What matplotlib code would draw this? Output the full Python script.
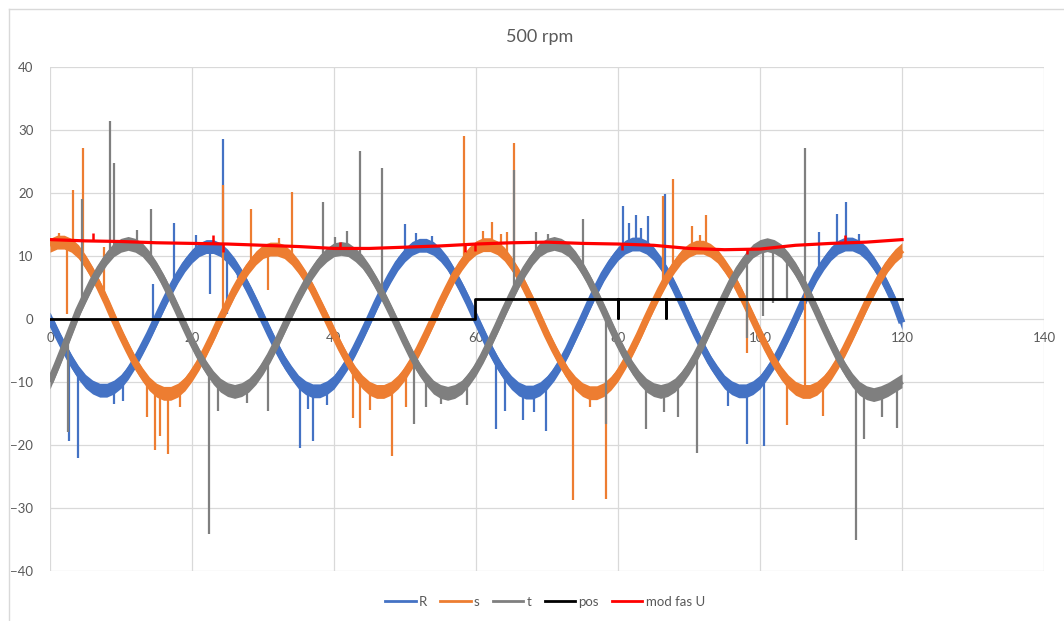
import numpy as np
import matplotlib
matplotlib.use("Agg")
import matplotlib.pyplot as plt
from matplotlib.lines import Line2D

plt.rcParams['font.family'] = ['Lato', 'DejaVu Sans']

# samples, one per x unit (0..120)
x = np.arange(0, 121)

R = [0, -2.4, -4.6, -6.7, -8.5, -9.9, -10.8, -11.3, -11.3, -10.8, -9.9, -8.5, -6.7, -4.6, -2.4,
     0, 2.4, 4.7, 6.8, 8.6, 10.0, 11.0, 11.5, 11.5, 11.0, 10.0, 8.6, 6.8, 4.7, 2.4,
     0, -2.4, -4.7, -6.8, -8.5, -10.0, -10.9, -11.4, -11.4, -10.9, -10.0, -8.5, -6.8, -4.7, -2.4,
     0, 2.5, 4.8, 6.9, 8.8, 10.2, 11.2, 11.7, 11.7, 11.2, 10.2, 8.8, 6.9, 4.8, 2.5,
     0, -2.4, -4.8, -6.9, -8.7, -10.1, -11.1, -11.6, -11.6, -11.1, -10.1, -8.7, -6.9, -4.8, -2.4,
     0, 2.5, 4.9, 7.1, 8.9, 10.4, 11.4, 11.9, 11.9, 11.4, 10.4, 8.9, 7.1, 4.9, 2.5,
     0, -2.4, -4.7, -6.8, -8.5, -10.0, -10.9, -11.4, -11.4, -10.9, -10.0, -8.5, -6.8, -4.7, -2.4,
     0, 2.5, 4.9, 7.1, 8.9, 10.4, 11.4, 11.9, 11.9, 11.4, 10.4, 8.9, 7.1, 4.9, 2.5,
     -0.6]

S = [11.7, 12.2, 12.2, 11.7, 10.7, 9.1, 7.2, 5.0, 2.6, 0,
     -2.5, -4.8, -7.0, -8.8, -10.3, -11.3, -11.8, -11.8, -11.3, -10.3, -8.8, -7.0, -4.8, -2.5, 0,
     2.3, 4.6, 6.6, 8.3, 9.7, 10.7, 11.1, 11.1, 10.7, 9.7, 8.3, 6.6, 4.6, 2.3, 0,
     -2.4, -4.7, -6.8, -8.6, -10.0, -11.0, -11.5, -11.5, -11.0, -10.0, -8.6, -6.8, -4.7, -2.4, 0,
     2.5, 4.8, 7.0, 8.8, 10.3, 11.3, 11.8, 11.8, 11.3, 10.3, 8.8, 7.0, 4.8, 2.5, 0,
     -2.5, -4.8, -6.9, -8.8, -10.2, -11.2, -11.7, -11.7, -11.2, -10.2, -8.8, -6.9, -4.8, -2.5, 0,
     2.4, 4.7, 6.8, 8.5, 10.0, 10.9, 11.4, 11.4, 10.9, 10.0, 8.5, 6.8, 4.7, 2.4, 0,
     -2.4, -4.7, -6.8, -8.6, -10.0, -11.0, -11.5, -11.5, -11.0, -10.0, -8.6, -6.8, -4.7, -2.4, 0,
     2.4, 4.7, 6.8, 8.6, 10.0, 11.0]

T = [-10.0, -7.3, -4.5, -1.6,
     1.3, 3.7, 6.0, 8.0, 9.7, 11.0, 11.7, 12.0, 11.7, 11.0, 9.7, 8.0, 6.0, 3.7, 1.3,
     -1.2, -3.6, -5.8, -7.7, -9.3, -10.5, -11.2, -11.5, -11.2, -10.5, -9.3, -7.7, -5.8, -3.6, -1.2,
     1.2, 3.5, 5.6, 7.5, 9.1, 10.2, 11.0, 11.2, 11.0, 10.2, 9.1, 7.5, 5.6, 3.5, 1.2,
     -1.2, -3.6, -5.9, -7.9, -9.5, -10.8, -11.5, -11.8, -11.5, -10.8, -9.5, -7.9, -5.9, -3.6, -1.2,
     1.3, 3.7, 6.0, 8.0, 9.7, 11.0, 11.7, 12.0, 11.7, 11.0, 9.7, 8.0, 6.0, 3.7, 1.3,
     -1.2, -3.6, -5.8, -7.7, -9.3, -10.5, -11.2, -11.5, -11.2, -10.5, -9.3, -7.7, -5.8, -3.6, -1.2,
     1.2, 3.6, 5.9, 7.9, 9.5, 10.8, 11.5, 11.8, 11.5, 10.8, 9.5, 7.9, 5.9, 3.6, 1.2,
     -1.3, -3.7, -6.0, -8.0, -9.7, -11.0, -11.7, -12.0, -11.7, -11.2, -10.5, -9.8]

mod_x = [0, 5, 10, 15, 20, 25, 30, 35, 40, 45, 50, 55, 60, 65, 70, 75, 80, 85, 90, 95, 100, 105, 110, 115, 120]
mod_u = [12.6, 12.4, 12.3, 12.1, 12.0, 11.9, 11.7, 11.5, 11.2, 11.2, 11.4, 11.6, 11.9, 12.1, 12.2,
         12.0, 11.9, 11.7, 11.2, 11.0, 11.1, 11.7, 12.0, 12.2, 12.6]

pos_x = [0, 59.9, 59.9, 80.0, 80.0, 80.0, 86.7, 86.7, 86.7, 120]
pos_y = [0, 0, 3.2, 3.2, 0.1, 3.2, 3.2, 0.1, 3.2, 3.2]

# spikes: position and tip value
R_spk_x = [2.7, 4.0, 9.0, 10.3, 14.5, 17.4, 20.5, 22.6, 24.4, 24.9, 26.5, 35.2, 36.3, 37.1, 39.0,
           50.0, 51.5, 53.8, 62.8, 64.1, 66.6, 68.2, 69.9, 80.7, 81.6, 82.5, 83.2, 84.2, 86.6,
           95.5, 98.2, 100.6, 108.3, 110.8, 112.1, 114.0]
R_spk_y = [-19.4, -22.1, -13.5, -13.0, 5.6, 15.3, 13.4, 4.0, 28.5, 0.8, 6.5, -20.4, -14.3, -19.4, -13.6,
           15.1, 13.6, 13.2, -17.4, -14.6, -16.0, -14.8, -17.7, 18.0, 15.2, 16.5, 14.5, 16.4, 19.8,
           -13.8, -19.8, -20.1, 13.8, 16.7, 18.6, 13.5]

S_spk_x = [1.2, 2.4, 3.3, 4.6, 7.6, 13.6, 14.8, 15.5, 16.6, 18.3, 24.4, 28.3, 30.7, 32.2, 34.1,
           42.7, 43.7, 45.0, 48.2, 50.2, 58.3, 61.0, 62.2, 63.5, 64.3, 65.4, 73.7, 76.0, 78.3,
           86.3, 87.7, 90.4, 91.5, 92.4, 98.2, 103.8, 106.3, 108.9, 117.5]
S_spk_y = [13.7, 0.8, 20.5, 27.2, 11.5, -15.5, -20.8, -18.6, -21.5, -14.0, 21.2, 17.5, 4.6, 12.8, 20.1,
           -15.7, -17.3, -14.5, -21.8, -14.0, 29.0, 14.0, 15.4, 13.5, 13.8, 28.0, -28.8, -14.0, -28.5,
           19.6, 22.3, 14.8, 13.4, 16.5, -5.4, -16.9, 6.0, -15.4, 6.5]

T_spk_x = [2.5, 4.5, 8.5, 9.0, 12.2, 14.2, 22.4, 23.7, 27.8, 30.7, 38.5, 40.2, 41.8, 43.7, 46.8,
           51.3, 53.0, 55.0, 58.8, 65.4, 68.5, 70.2, 75.0, 78.3, 84.0, 86.5, 88.5, 91.1,
           98.2, 100.4, 101.8, 103.8, 106.3, 113.5, 114.7, 117.2, 119.3]
T_spk_y = [-18.0, 19.0, 31.4, 24.7, 14.2, 17.4, -34.2, -14.6, -13.3, -14.6, 18.5, 13.0, 14.0, 26.6, 24.0,
           -16.7, -14.0, -13.5, -13.6, 23.6, 13.8, 13.5, 15.9, -16.7, -17.4, -14.8, -15.5, -21.2,
           -3.0, 0.5, 2.5, 3.0, 27.2, -35.0, -19.0, -15.5, -17.3]

M_spk_x = [6.0, 23.0, 24.3, 40.8, 58.5, 59.8, 80.5, 98.2, 112.0]
M_spk_y = [13.6, 13.4, 10.6, 12.2, 10.6, 10.8, 11.0, 10.3, 13.3]

colors = {'R': '#4472C4', 's': '#ED7D31', 't': '#7F7F7F', 'pos': '#000000', 'mod fas U': '#FF0000'}
band = 1.1  # half thickness of the noisy band

fig = plt.figure(figsize=(10.64, 6.21), dpi=100)
ax = fig.add_axes([50 / 1064, 1 - 571 / 621, 994 / 1064, 504 / 621])

for i, (name, y, sx, sy) in enumerate([('R', R, R_spk_x, R_spk_y),
                                       ('s', S, S_spk_x, S_spk_y),
                                       ('t', T, T_spk_x, T_spk_y)]):
    y = np.array(y)
    c = colors[name]
    z = 2 + i * 0.1
    ax.fill_between(x, y - band, y + band, color=c, lw=0, zorder=z)
    ax.plot(x, y, color=c, lw=5, zorder=z, solid_capstyle='butt')
    base = np.interp(sx, x, y)
    ax.vlines(sx, base, sy, color=c, lw=1.6, zorder=z)

ax.plot(pos_x, pos_y, color=colors['pos'], lw=2.0, zorder=2.3)
ax.plot(mod_x, mod_u, color=colors['mod fas U'], lw=2.3, zorder=2.4)
ax.vlines(M_spk_x, np.interp(M_spk_x, mod_x, mod_u), M_spk_y, color=colors['mod fas U'], lw=1.8, zorder=2.4)

ax.set_xlim(0, 140)
ax.set_ylim(-40, 40)
ax.set_xticks(range(0, 141, 20))
ax.set_yticks(range(-40, 41, 10))
ax.grid(True, color='#D9D9D9', lw=0.9)
ax.set_axisbelow(True)
for s in ax.spines.values():
    s.set_visible(False)
ax.spines['bottom'].set_position(('data', 0))
ax.tick_params(length=0, labelsize=9.5, labelcolor='#595959')
ax.tick_params(axis='x', pad=9)
ax.tick_params(axis='y', pad=12)

fig.text(540 / 1064, 1 - 37 / 621, '500 rpm', ha='center', va='center', fontsize=13, color='#595959')

handles = [Line2D([], [], color=colors[k], lw=2) for k in colors]
fig.legend(handles, list(colors), loc='center', bbox_to_anchor=(545 / 1064, 1 - 602 / 621), ncol=5,
           frameon=False, fontsize=9.5, labelcolor='#595959', handlelength=2.3, handletextpad=0.25,
           columnspacing=1.0)

# chart area border
fig.add_artist(Line2D([9 / 1064, 1], [1 - 9 / 621, 1 - 9 / 621], color='#D9D9D9', lw=1))
fig.add_artist(Line2D([9 / 1064, 9 / 1064], [0, 1 - 9 / 621], color='#D9D9D9', lw=1))

fig.savefig('out.png', dpi=100)
